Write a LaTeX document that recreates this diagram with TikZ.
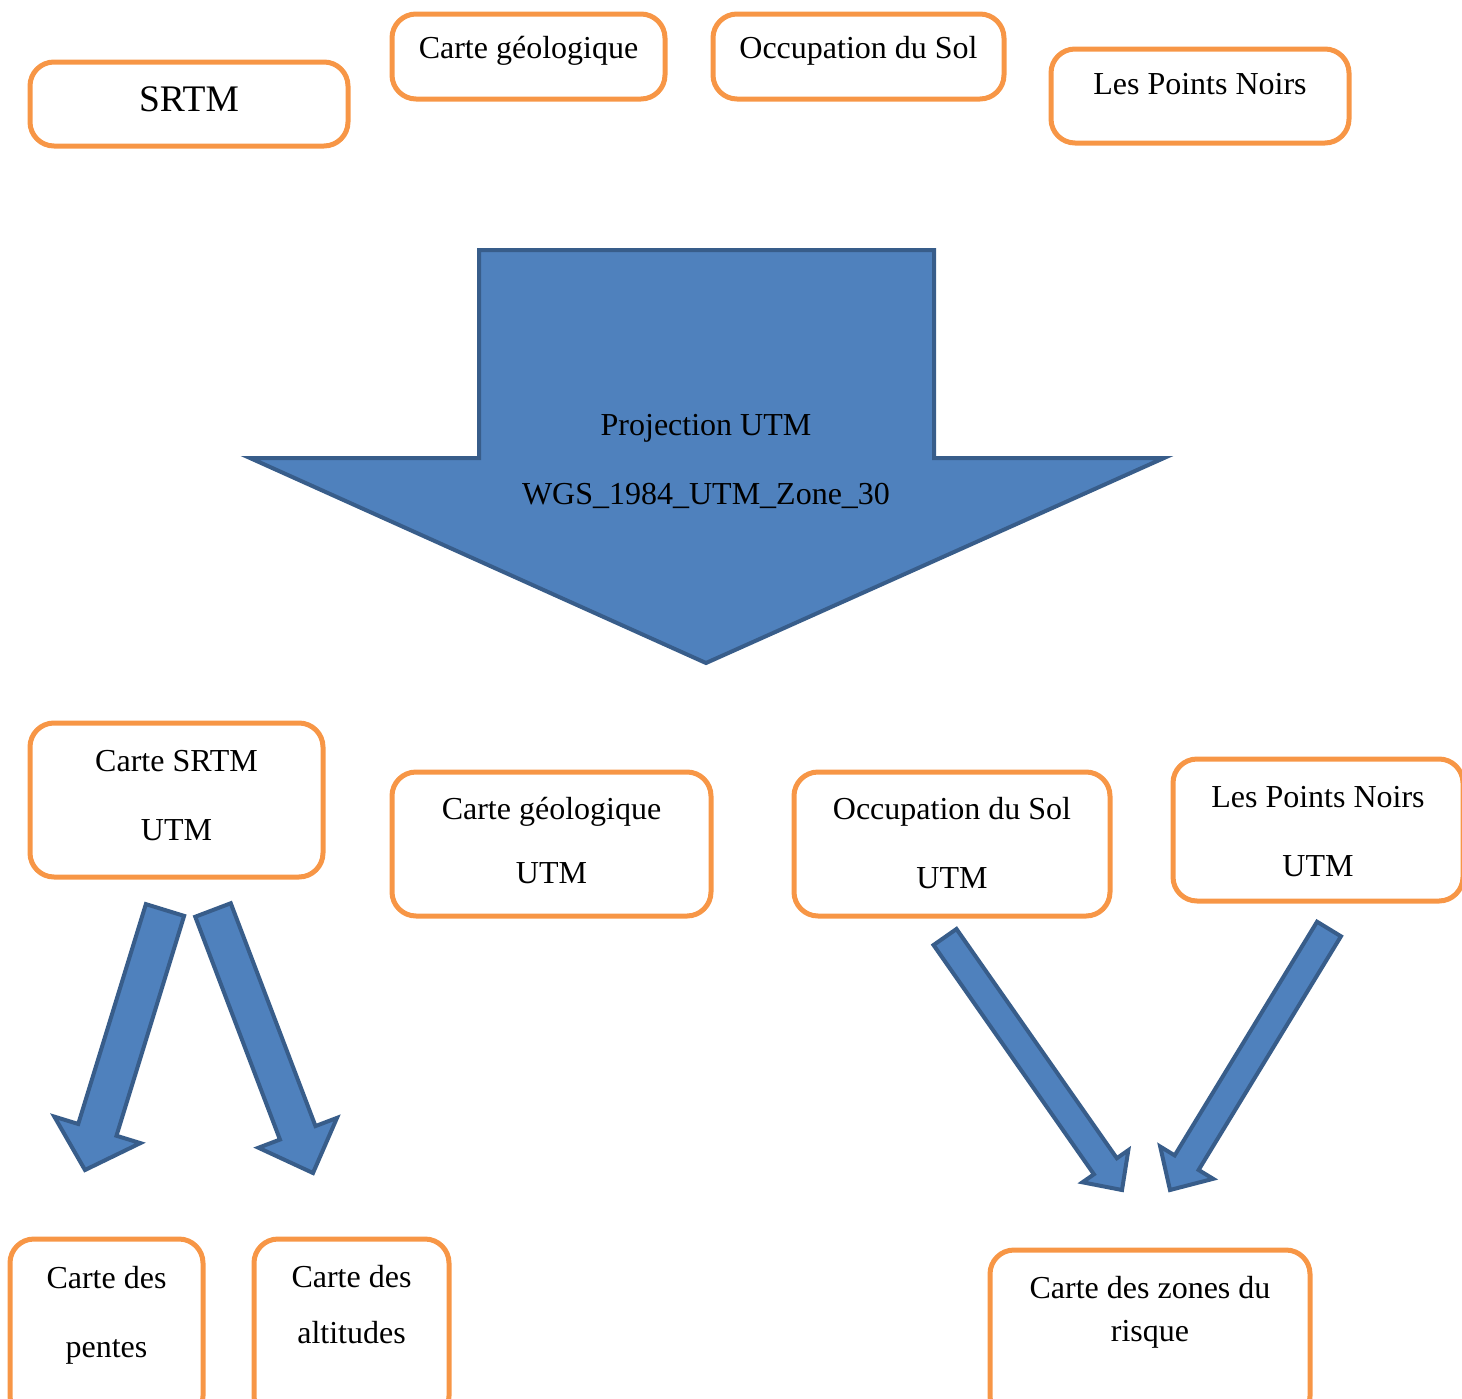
\documentclass[tikz,border=0pt]{standalone}
\usepackage{fontspec}
\setmainfont{Liberation Serif}
\usetikzlibrary{calc}

\definecolor{boxorange}{HTML}{F79646}
\definecolor{arrowblue}{HTML}{4F81BD}
\definecolor{arrowedge}{HTML}{385D8A}

% block arrow: tail, tip, half shaft, half head, head length
\newcommand{\blockarrow}[5]{%
  \coordinate (#1-base) at ($(#2)!#5!(#1)$);
  \draw[arrowbody] ($(#1)!#3!90:(#2)$) -- ($(#1-base)!#3!90:(#2)$) -- ($(#1-base)!#4!90:(#2)$)
    -- (#2) -- ($(#1-base)!#4!-90:(#2)$) -- ($(#1-base)!#3!-90:(#2)$) -- ($(#1)!#3!-90:(#2)$) -- cycle;}

\begin{document}
\begin{tikzpicture}[
    x=0.5pt, y=-0.5pt,
    box/.style={draw=boxorange, line width=2.5pt, rounded corners=12pt, inner sep=0pt, align=center, font=\fontsize{16}{34.5}\selectfont},
    arrowbody/.style={draw=arrowedge, fill=arrowblue, line width=2pt, line join=miter},
    label/.style={align=center, inner sep=0pt, font=\fontsize{16}{34.5}\selectfont}
]
\useasboundingbox (0,0) rectangle (1462,1398);

% Input layers
\node[box, minimum width=159pt, text height=24.5pt, text depth=17.5pt, font=\fontsize{18.75}{22}\selectfont] (srtm) at (189,104) {SRTM};
\node[box, minimum width=136.5pt, text height=22pt, text depth=20.5pt] (geo) at (528.5,56.5) {Carte géologique};
\node[box, minimum width=145.5pt, text height=22pt, text depth=20.5pt] (occ) at (858.5,56.5) {Occupation du Sol};
\node[box, minimum width=149pt, text height=22.5pt, text depth=24.5pt] (pts) at (1200,96) {Les Points Noirs};

% Projection
\draw[arrowbody] (479,250) -- (934,250) -- (934,458) -- (1164,458) -- (706,663) -- (250,458) -- (479,458) -- cycle;
\node[label] (proj) at (706,461) {Projection UTM\\WGS\_1984\_UTM\_Zone\_30};

% Projected layers
\node[box, minimum width=146.5pt, text height=58.5pt, text depth=18.5pt] (csrtm) at (176.5,800) {Carte SRTM\\UTM};
\node[box, minimum width=159.5pt, text height=55.5pt, text depth=16.5pt, font=\fontsize{16}{32}\selectfont] (cgeo) at (551.5,844) {Carte géologique\\UTM};
\node[box, minimum width=158pt, text height=58pt, text depth=14pt] (cocc) at (952,844) {Occupation du Sol\\UTM};
\node[box, minimum width=145pt, text height=58.5pt, text depth=12.5pt] (cpts) at (1318,830) {Les Points Noirs\\UTM};

% Results
\node[box, minimum width=96.5pt, text height=59pt, text depth=31.5pt] (pentes) at (106.5,1329.5) {Carte des\\pentes};
\node[box, minimum width=97.5pt, text height=52pt, text depth=38.5pt, font=\fontsize{16}{28}\selectfont] (alti) at (351.5,1329.5) {Carte des\\altitudes};
\node[box, minimum width=160pt, text height=45.5pt, text depth=39.5pt, font=\fontsize{16}{21.5}\selectfont] (risque) at (1150,1335) {Carte des zones du\\risque};

% Block arrows
\coordinate (a1) at (165,910);  \coordinate (a1h) at (85,1170);
\coordinate (a2) at (213,910);  \coordinate (a2h) at (313,1173);
\coordinate (a3) at (945,937);  \coordinate (a3h) at (1122,1190);
\coordinate (a4) at (1329,929); \coordinate (a4h) at (1170,1190);
\blockarrow{a1}{a1h}{10pt}{22.5pt}{21pt}
\blockarrow{a2}{a2h}{9.5pt}{21pt}{21.5pt}
\blockarrow{a3}{a3h}{7pt}{14pt}{14.5pt}
\blockarrow{a4}{a4h}{7pt}{15.5pt}{16pt}

\end{tikzpicture}
\end{document}
